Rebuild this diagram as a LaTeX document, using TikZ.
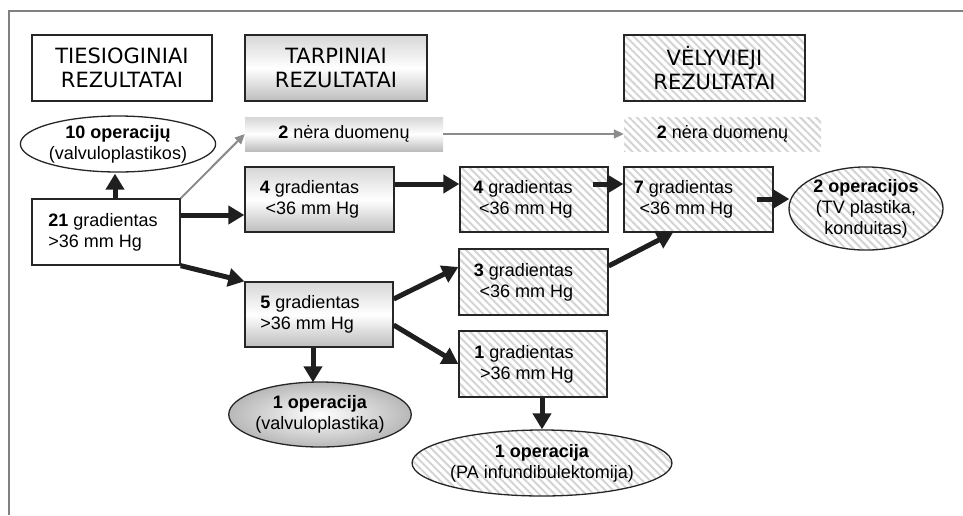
\documentclass[tikz,border=0pt]{standalone}
\usepackage{fontspec}
\setmainfont{Liberation Sans}
\newfontfamily\hdfont{DejaVu Sans}
\usetikzlibrary{arrows.meta,shapes.geometric,patterns.meta}
\tikzset{
  frameline/.style={draw=black!50, line width=1.5pt},
  hdr/.style={draw=black!85, line width=1.3pt, minimum height=66pt, align=center, inner sep=0pt,
    font=\hdfont\fontsize{21}{23.5}\selectfont},
  box/.style={draw=black!85, line width=1.3pt, minimum height=65pt, inner sep=0pt},
  hatch/.style={pattern={Lines[angle=-45,distance=5.5pt,line width=2pt]}, pattern color=black!17},
  shadebox/.style={top color=black!16, bottom color=black!26, middle color=white},
  txt/.style={inner sep=0pt, font=\fontsize{18}{21}\selectfont},
  oval/.style={ellipse, draw=black!85, line width=1.3pt, inner sep=0pt, align=center,
    font=\fontsize{18}{21}\selectfont},
  big/.style={line width=5pt, draw=black!88, -{Triangle[length=16pt,width=18pt]}},
  thinarrow/.style={line width=2pt, draw=black!45, -{Triangle[length=10pt,width=9pt]}}
}
\begin{document}
\begin{tikzpicture}[x=1pt,y=-1pt]
\useasboundingbox (0,0) rectangle (963,515);
% frame
\draw[frameline] (9,515) -- (9,11) -- (963,11);

% headers
\node[hdr, minimum width=180pt] (h1) at (122,68) {TIESIOGINIAI\\REZULTATAI};
\node[hdr, shadebox, minimum width=182pt] (h2) at (336,68) {TARPINIAI\\REZULTATAI};
\node[hdr, hatch, minimum width=181pt] (h3) at (714.5,68) {VĖLYVIEJI\\REZULTATAI};

% no data bars
\node[txt, shadebox, minimum width=198pt, minimum height=34pt] (nd1) at (344,134) {\textbf{2} nėra duomenų};
\node[txt, hatch, minimum width=197pt, minimum height=34pt] (nd2) at (722.5,134) {\textbf{2} nėra duomenų};

% ellipses
\node[oval, minimum width=172pt, minimum height=56pt] (op10) at (118,144) {\textbf{10 operacijų}\\(valvuloplastikos)};
\node[oval, hatch, minimum width=154pt, minimum height=83pt] (op2) at (866,208.5) {\textbf{2 operacijos}\\(TV plastika,\\konduitas)};
\node[oval, inner color=white, outer color=black!28, minimum width=182pt, minimum height=65pt] (op1a) at (320,414.5) {\textbf{1 operacija}\\(valvuloplastika)};
\node[oval, hatch, minimum width=230pt, minimum height=66pt] (op1b) at (542,463) {\textbf{1 operacija}\\(PA infundibulektomija)};

% boxes
\node[box, minimum width=148pt, minimum height=66pt] (g21) at (106,232) {};
\node[txt, align=left] (g21t) at ([xshift=-3pt]g21.center) {\textbf{21} gradientas\\{>}36 mm Hg};

\node[box, shadebox, minimum width=149pt] (g4a) at (319.5,199.5) {};
\node[txt, align=right] (g4at) at ([xshift=-10pt]g4a.center) {\textbf{4} gradientas\\{<}36 mm Hg};

\node[box, shadebox, minimum width=148pt] (g5) at (319,314.5) {};
\node[txt, align=left] (g5t) at ([xshift=-9pt]g5.center) {\textbf{5} gradientas\\{>}36 mm Hg};

\node[box, hatch, minimum width=148pt] (g4b) at (534,199.5) {};
\node[txt, align=right] (g4bt) at ([xshift=-11pt]g4b.center) {\textbf{4} gradientas\\{<}36 mm Hg};

\node[box, hatch, minimum width=149pt, minimum height=66pt] (g3) at (533.5,282) {};
\node[txt, align=right] (g3t) at ([xshift=-10pt]g3.center) {\textbf{3} gradientas\\{<}36 mm Hg};

\node[box, hatch, minimum width=148pt, minimum height=66pt] (g1) at (533,364) {};
\node[txt, align=right] (g1t) at ([xshift=-9pt]g1.center) {\textbf{1} gradientas\\{>}36 mm Hg};

\node[box, hatch, minimum width=149pt] (g7) at (698.5,199.5) {};
\node[txt, align=right] (g7t) at ([xshift=-15pt]g7.center) {\textbf{7} gradientas\\{<}36 mm Hg};

% grey arrows
\draw[thinarrow] (g21.north east) -- (nd1.west);
\draw[thinarrow] (nd1.east) -- (nd2.west);

% thick arrows
\draw[big] ([xshift=9pt]g21.north) -- ([xshift=9pt,yshift=-1pt]g21.north |- op10.south);
\draw[big] ([yshift=17pt]g21.east) -- ([yshift=17pt]g21.east -| g4a.west);
\draw[big] (g21.south east) -- (g5.north west);
\draw[big] ([yshift=15.5pt]g4a.east) -- ([yshift=15.5pt]g4a.east -| g4b.west);
\draw[big] ([xshift=-16pt,yshift=15.5pt]g4b.east) -- ([yshift=15.5pt]g4b.east -| g7.west);
\draw[big] ([xshift=-17pt,yshift=0.5pt]g7.east) -- ([xshift=1pt,yshift=0.5pt]g7.east -| op2.west);
\draw[big] ([yshift=15.5pt]g5.east) -- ([yshift=15pt]g3.west);
\draw[big] ([yshift=-10.5pt]g5.east) -- (g1.west);
\draw[big] ([xshift=-6pt]g5.south) -- ([xshift=-6pt,yshift=-1pt]g5.south |- op1a.north);
\draw[big] ([yshift=16pt]g3.east) -- ([xshift=-25.5pt]g7.south);
\draw[big] (g1.south -| op1b.north) -- (op1b.north);
\end{tikzpicture}
\end{document}
